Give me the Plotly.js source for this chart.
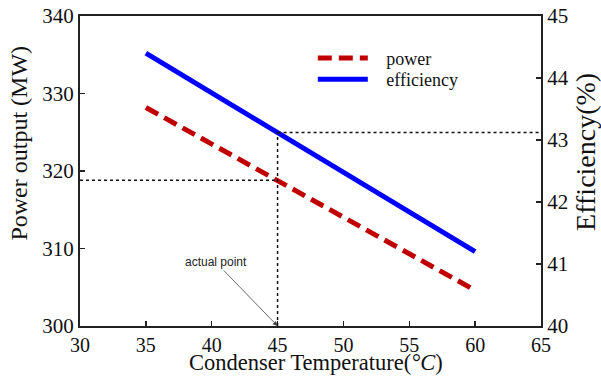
<!DOCTYPE html>
<html>
<head>
<meta charset="utf-8">
<script src="https://cdn.plot.ly/plotly-3.0.1.min.js"></script>
<style>html,body{margin:0;padding:0;background:#fff;}#chart{width:601px;height:376px;}</style>
</head>
<body>
<div id="chart"></div>
<script>
const temperature = [35, 40, 45, 50, 55, 60];
const power = [328.2, 323.5, 318.8, 314.0, 309.3, 304.6];
const efficiency = [44.40, 43.76, 43.12, 42.48, 41.84, 41.20];
const actualT = 45;
const actualPower = 318.8;
const actualEff = 43.12;
const xTicks = [30, 35, 40, 45, 50, 55, 60, 65];
const yTicks = [300, 310, 320, 330, 340];
const y2Ticks = [40, 41, 42, 43, 44, 45];

const serif = 'Liberation Serif, Times New Roman, serif';
const axisColor = '#222';
const gap = '\u00a0\u00a0\u00a0';

const traces = [
  {x: temperature, y: power, name: gap + 'power', type: 'scatter', mode: 'lines',
   line: {color: '#C00000', width: 5, dash: '14px,7px'}, yaxis: 'y', legend: 'legend'},
  {x: temperature, y: efficiency, name: gap + 'efficiency', type: 'scatter', mode: 'lines',
   line: {color: '#0000FF', width: 5}, yaxis: 'y2', legend: 'legend2'}
];

const legendBase = {xanchor: 'left', yanchor: 'top', bgcolor: 'rgba(0,0,0,0)',
  font: {family: serif, size: 18, color: '#111'}, itemwidth: 50};

const layout = {
  width: 601, height: 376,
  margin: {l: 80, r: 60, t: 16, b: 50},
  paper_bgcolor: '#fff', plot_bgcolor: '#fff',
  showlegend: true,
  legend: Object.assign({x: 0.505, y: 0.923}, legendBase),
  legend2: Object.assign({x: 0.505, y: 0.855}, legendBase),
  xaxis: {range: [30, 65], tickvals: xTicks, ticktext: xTicks.map(String),
          ticks: 'inside', ticklen: 5, tickwidth: 1.5, tickcolor: axisColor,
          showline: true, linecolor: axisColor, linewidth: 2, mirror: true,
          showgrid: false, zeroline: false,
          tickfont: {family: serif, size: 20, color: '#111'}},
  yaxis: {range: [300, 340], tickvals: yTicks, ticktext: yTicks.map(String),
          ticks: 'inside', ticklen: 5, tickwidth: 1.5, tickcolor: axisColor,
          showline: true, linecolor: axisColor, linewidth: 2,
          showgrid: false, zeroline: false,
          tickfont: {family: serif, size: 21, color: '#111'}},
  yaxis2: {range: [40, 45], tickvals: y2Ticks, ticktext: y2Ticks.map(String),
           overlaying: 'y', side: 'right',
           ticks: 'inside', ticklen: 5, tickwidth: 1.5, tickcolor: axisColor,
           showline: true, linecolor: axisColor, linewidth: 2,
           showgrid: false, zeroline: false,
           tickfont: {family: serif, size: 21, color: '#111'}},
  shapes: [
    {type: 'line', xref: 'x', yref: 'y', x0: 30, x1: actualT, y0: actualPower, y1: actualPower,
     line: {color: '#111', width: 1.5, dash: 'dot'}},
    {type: 'line', xref: 'x', yref: 'y2', x0: actualT, x1: actualT, y0: 40, y1: actualEff,
     line: {color: '#111', width: 1.5, dash: 'dot'}},
    {type: 'line', xref: 'x', yref: 'y2', x0: actualT, x1: 65, y0: actualEff, y1: actualEff,
     line: {color: '#111', width: 1.5, dash: 'dot'}}
  ],
  annotations: [
    {x: actualT, y: 300, xref: 'x', yref: 'y', text: 'actual point', showarrow: true,
     ax: -62, ay: -64, arrowhead: 2, arrowsize: 1.2, arrowwidth: 0.8, arrowcolor: '#444',
     font: {family: 'Liberation Sans, Arial, sans-serif', size: 12, color: '#222'}},
    {xref: 'paper', yref: 'paper', x: 0.511, y: -0.119, xanchor: 'center', yanchor: 'middle',
     text: 'Condenser Temperature(<i>\u00b0C</i>)', showarrow: false,
     font: {family: serif, size: 22.5, color: '#111'}},
    {xref: 'paper', yref: 'paper', x: -0.132, y: 0.589, xanchor: 'center', yanchor: 'middle',
     text: 'Power output (MW)', textangle: -90, showarrow: false,
     font: {family: serif, size: 24, color: '#111'}},
    {xref: 'paper', yref: 'paper', x: 1.095, y: 0.561, xanchor: 'center', yanchor: 'middle',
     text: 'Efficiency(%)', textangle: -90, showarrow: false,
     font: {family: serif, size: 28, color: '#111'}}
  ]
};

Plotly.newPlot('chart', traces, layout, {displayModeBar: false, staticPlot: true});
</script>
</body>
</html>
